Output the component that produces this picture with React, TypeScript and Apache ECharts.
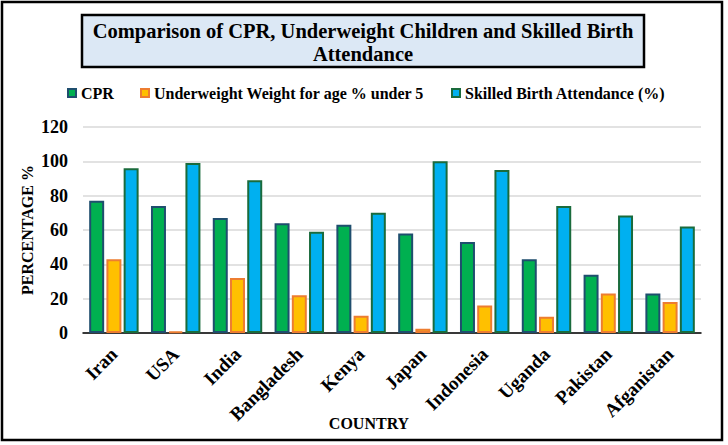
import React, { useEffect, useRef } from "react";
import * as echarts from "echarts";

const categories = ["Iran", "USA", "India", "Bangladesh", "Kenya", "Japan", "Indonesia", "Uganda", "Pakistan", "Afganistan"];
const cprValues = [77, 74, 67, 64, 63, 58, 53, 43, 34, 23];
const underweightValues = [43, 1, 32, 22, 10, 2.5, 16, 9.5, 23, 18];
const skilledBirthValues = [96, 99, 89, 59, 70, 100, 95, 74, 68.5, 62];

const seriesNames = ["CPR", "Underweight Weight for age % under 5", "Skilled Birth Attendance (%)"];
const titleText = "Comparison of CPR, Underweight Children and Skilled Birth\nAttendance";

const FONT = "Liberation Serif";

export default function App() {
  const ref = useRef<HTMLDivElement>(null);
  useEffect(() => {
    document.body.style.margin = "0";
    document.body.style.overflow = "hidden";
    const chart = echarts.init(ref.current!, null, { renderer: "svg" });
    const legendBase = {
      itemWidth: 8,
      itemHeight: 8,
      itemGap: 0,
      icon: "rect",
      textStyle: { fontFamily: FONT, fontWeight: "bold", fontSize: 16, color: "#000" },
      top: 80,
    };
    chart.setOption({
      animation: false,
      backgroundColor: "#fff",
      graphic: [
        {
          type: "rect",
          shape: { x: 2, y: 2, width: 720, height: 438 },
          style: { fill: "none", stroke: "#000", lineWidth: 2.5 },
        },
        {
          type: "rect",
          shape: { x: 82, y: 15, width: 562, height: 52 },
          style: { fill: "#dce8f5", stroke: "#000", lineWidth: 2.5 },
        },
        {
          type: "text",
          x: 363,
          y: 19,
          style: {
            text: titleText,
            align: "center",
            verticalAlign: "top",
            fontSize: 20.5,
            fontWeight: "bold",
            fontFamily: FONT,
            lineHeight: 23,
            fill: "#000",
          },
        },
      ],
      legend: [
        { ...legendBase, data: [seriesNames[0]], left: 62 },
        { ...legendBase, data: [seriesNames[1]], left: 135 },
        { ...legendBase, data: [seriesNames[2]], left: 446 },
      ],
      grid: { left: 83, right: 27, top: 127, bottom: 112, containLabel: false },
      xAxis: {
        type: "category",
        data: categories,
        name: "COUNTRY",
        nameLocation: "middle",
        nameGap: 82,
        nameMoveOverlap: false,
        nameTextStyle: { fontFamily: FONT, fontWeight: "bold", fontSize: 16, color: "#000", padding: [0, 46, 0, 0] },
        axisLine: { lineStyle: { color: "#000", width: 1.5 } },
        axisTick: { show: false },
        axisLabel: {
          rotate: 45,
          margin: 18,
          fontFamily: FONT,
          fontWeight: "bold",
          fontSize: 19,
          color: "#000",
          interval: 0,
        },
      },
      yAxis: {
        type: "value",
        min: 0,
        max: 120,
        interval: 20,
        name: "PERCENTAGE %",
        nameLocation: "middle",
        nameGap: 48,
        nameMoveOverlap: false,
        nameRotate: 90,
        nameTextStyle: { fontFamily: FONT, fontWeight: "bold", fontSize: 16, color: "#000" },
        axisLine: { show: false },
        axisTick: { show: false },
        axisLabel: { margin: 15, fontFamily: FONT, fontWeight: "bold", fontSize: 18, color: "#000" },
        splitLine: { lineStyle: { color: "#d9d9d9", width: 1.5 } },
      },
      series: [
        {
          name: seriesNames[0],
          type: "bar",
          data: cprValues,
          barGap: "15%",
          barCategoryGap: "20%",
          itemStyle: { color: "#00b050", borderColor: "#1f4e6e", borderWidth: 2 },
        },
        {
          name: seriesNames[1],
          type: "bar",
          data: underweightValues,
          itemStyle: { color: "#ffc000", borderColor: "#ed7d31", borderWidth: 2 },
        },
        {
          name: seriesNames[2],
          type: "bar",
          data: skilledBirthValues,
          itemStyle: { color: "#00b0f0", borderColor: "#1a6b3c", borderWidth: 2 },
        },
      ],
    });
    return () => chart.dispose();
  }, []);
  return <div ref={ref} style={{ width: 728, height: 445 }} />;
}
